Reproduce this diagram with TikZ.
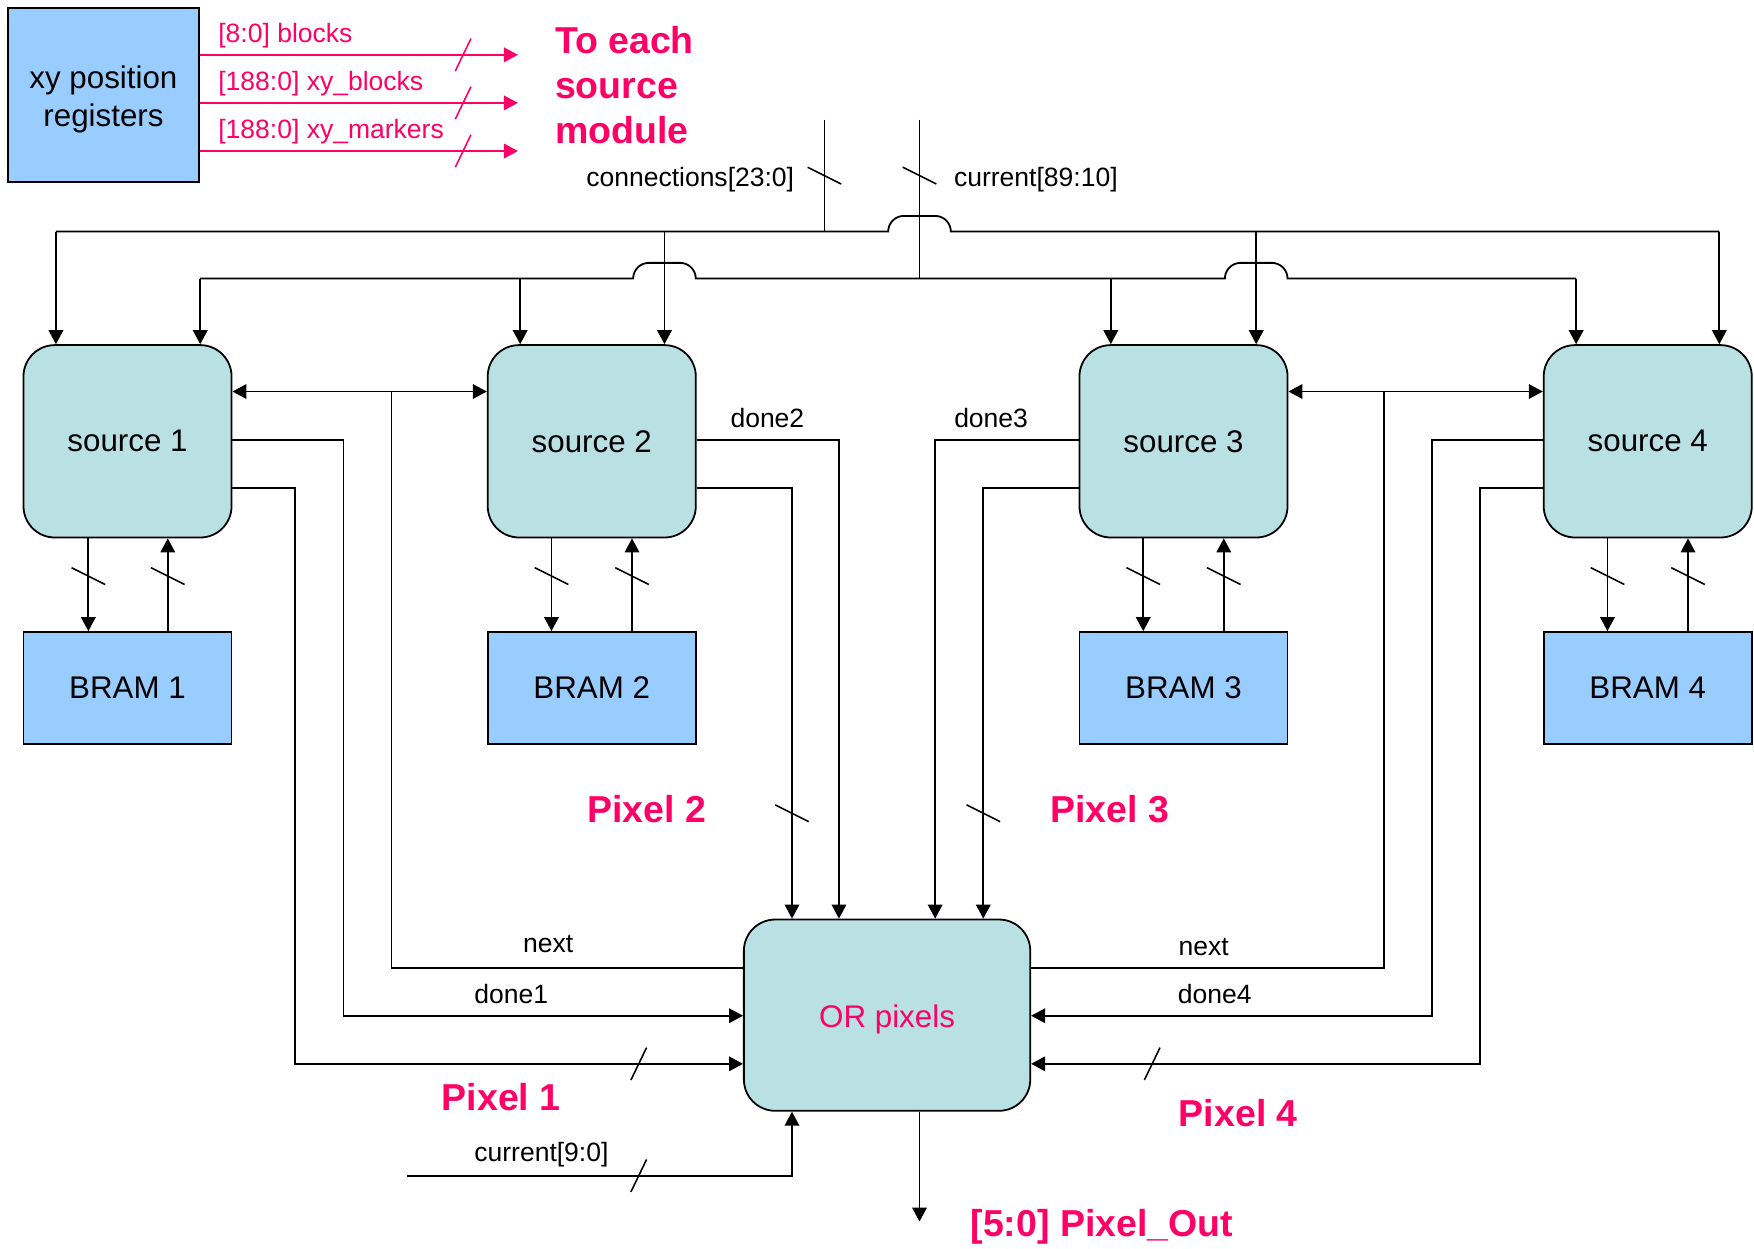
\documentclass[tikz,border=0pt]{standalone}
\usepackage{fontspec}
\setmainfont{Liberation Sans}
\usetikzlibrary{arrows.meta}
\definecolor{hot}{HTML}{FF0066}
\definecolor{srcfill}{HTML}{B9E0E3}
\definecolor{memfill}{HTML}{99CCFF}

\begin{document}
\begin{tikzpicture}[x=1pt,y=-1pt,
  wire/.style={line width=1.6pt},
  tip/.tip={Triangle[length=12.5pt,width=13pt]},
  arr/.style={wire,-tip},
  dblarr/.style={wire,tip-tip},
  srcbox/.style={draw,line width=1.6pt,fill=srcfill,rounded corners=28pt,
    minimum width=186pt,minimum height=172pt,inner sep=0pt,
    font=\fontsize{28}{32}\selectfont},
  membox/.style={draw,line width=1.6pt,fill=memfill,minimum width=186pt,
    minimum height=100pt,inner sep=0pt,font=\fontsize{28}{32}\selectfont},
  lbl/.style={inner sep=0pt,font=\fontsize{23.7}{27}\selectfont},
  hotlbl/.style={lbl,text=hot},
  big/.style={inner sep=0pt,text=hot,font=\fontsize{33.5}{40}\bfseries\selectfont},
  tick/.style={line width=1.4pt},
  bsl/.pic={\draw[tick] (-15,-7.5) -- (15,7.5);},
  fsl/.pic={\draw[tick] (-7,14.5) -- (7,-14.5);}
]
\useasboundingbox (0,0) rectangle (1568,1116);

% ---- blocks ----
\node[membox,minimum width=171pt,minimum height=156pt] (xy) at (92.5,85) {};
\node[align=center,inner sep=0pt,font=\fontsize{28}{34}\selectfont] (xytext)
  at ([yshift=-4pt]xy.center) {xy position\\registers};

\node[srcbox] (s1) at (114,394.5) {source 1};
\node[srcbox] (s2) at (529,394.5) {source 2};
\node[srcbox] (s3) at (1058,394.5) {source 3};
\node[srcbox] (s4) at (1473,394.5) {source 4};

\node[membox] (b1) at (114,615) {BRAM 1};
\node[membox] (b2) at (529,615) {BRAM 2};
\node[membox] (b3) at (1058,615) {BRAM 3};
\node[membox] (b4) at (1473,615) {BRAM 4};

\node[srcbox,minimum width=256pt,minimum height=171pt] (orp) at (793,907.5) {};
\node[inner sep=0pt,text=hot,font=\fontsize{28}{32}\selectfont] (ortext)
  at ([yshift=-4pt]orp.center) {OR pixels};

% ---- register outputs ----
\coordinate (t1) at (463,49);
\coordinate (t2) at (463,92);
\coordinate (t3) at (463,135);
\draw[arr,hot] (xy.east |- t1) -- (t1);
\draw[arr,hot] (xy.east |- t2) -- (t2);
\draw[arr,hot] (xy.east |- t3) -- (t3);
\pic[color=hot] at (414,49) {fsl};
\pic[color=hot] at (414,92) {fsl};
\pic[color=hot] at (414,135) {fsl};
\node[hotlbl,anchor=west] (la) at (195,32) {[8:0] blocks};
\node[hotlbl,anchor=west] (lb) at (195,75) {[188:0] xy\_blocks};
\node[hotlbl,anchor=west] (lc) at (195,118) {[188:0] xy\_markers};
\node[big,anchor=west,align=left] (dest) at (496,76) {To each\\source\\module};

% ---- input buses ----
\coordinate (connTop) at (737,107);
\coordinate (curTop) at (822,107);
\coordinate (connJ) at (737,207);
\coordinate (curJ) at (822,249);
\coordinate (cb1) at (50,207);
\coordinate (cb2) at (594,207);
\coordinate (cb3) at (1123,207);
\coordinate (cb4) at (1537,207);
\coordinate (lb1) at (179,249);
\coordinate (lb2) at (465,249);
\coordinate (lb3) at (993,249);
\coordinate (lb4) at (1409,249);

\draw[wire] (connTop) -- (connJ);
\draw[wire] (curTop) -- (curJ);
\pic at (737,157) {bsl};
\pic at (822,157) {bsl};
\node[lbl] (lconn) at (617,161) {connections[23:0]};
\node[lbl] (lcur) at (926,161) {current[89:10]};

% connections bus, hopping over the current feed
\draw[wire] (cb1) -- (794,207) arc[start angle=180,end angle=270,radius=14]
  -- (836,193) arc[start angle=270,end angle=360,radius=14] -- (cb4);
% current bus, hopping over the connection drops
\draw[wire] (lb1) -- (566,249) arc[start angle=180,end angle=270,radius=14]
  -- (608,235) arc[start angle=270,end angle=360,radius=14]
  -- (1095,249) arc[start angle=180,end angle=270,radius=14]
  -- (1137,235) arc[start angle=270,end angle=360,radius=14] -- (lb4);

\draw[arr] (cb1) -- (cb1 |- s1.north);
\draw[arr] (cb2) -- (cb2 |- s2.north);
\draw[arr] (cb3) -- (cb3 |- s3.north);
\draw[arr] (cb4) -- (cb4 |- s4.north);
\draw[arr] (lb1) -- (lb1 |- s1.north);
\draw[arr] (lb2) -- (lb2 |- s2.north);
\draw[arr] (lb3) -- (lb3 |- s3.north);
\draw[arr] (lb4) -- (lb4 |- s4.north);

% ---- source <-> BRAM ----
\draw[arr] (79,0 |- s1.south) -- (79,0 |- b1.north);
\draw[arr] (150,0 |- b1.north) -- (150,0 |- s1.south);
\draw[arr] (493,0 |- s2.south) -- (493,0 |- b2.north);
\draw[arr] (565,0 |- b2.north) -- (565,0 |- s2.south);
\draw[arr] (1022,0 |- s3.south) -- (1022,0 |- b3.north);
\draw[arr] (1094,0 |- b3.north) -- (1094,0 |- s3.south);
\draw[arr] (1437,0 |- s4.south) -- (1437,0 |- b4.north);
\draw[arr] (1509,0 |- b4.north) -- (1509,0 |- s4.south);
\foreach \x in {79,150,493,565,1022,1094,1437,1509} \pic at (\x,515) {bsl};

% ---- next ----
\draw[dblarr] (s1.east |- 0,350) -- (s2.west |- 0,350);
\draw[wire] (350,350) -- (350,865) -- (orp.west |- 0,865);
\draw[dblarr] (s3.east |- 0,350) -- (s4.west |- 0,350);
\draw[wire] (1237,350) -- (1237,865) -- (orp.east |- 0,865);
\node[lbl] (ln1) at (490,844) {next};
\node[lbl] (ln2) at (1076,847) {next};

% ---- done / pixel lines into the OR ----
\draw[arr] (s1.east |- 0,393) -- (307,393) -- (307,908) -- (orp.west |- 0,908);
\draw[arr] (s1.east |- 0,436) -- (264,436) -- (264,951) -- (orp.west |- 0,951);
\pic at (571,951) {fsl};
\draw[arr] (s2.east |- 0,393) -- (750,393) -- (750,0 |- orp.north);
\draw[arr] (s2.east |- 0,436) -- (708,436) -- (708,0 |- orp.north);
\pic at (708,727) {bsl};
\draw[arr] (s3.west |- 0,393) -- (836,393) -- (836,0 |- orp.north);
\draw[arr] (s3.west |- 0,436) -- (879,436) -- (879,0 |- orp.north);
\pic at (879,727) {bsl};
\draw[arr] (s4.west |- 0,393) -- (1280,393) -- (1280,908) -- (orp.east |- 0,908);
\draw[arr] (s4.west |- 0,436) -- (1323,436) -- (1323,951) -- (orp.east |- 0,951);
\pic at (1030,951) {fsl};

\node[lbl] (ld1) at (457,889) {done1};
\node[lbl] (ld2) at (686,374) {done2};
\node[lbl] (ld3) at (886,374) {done3};
\node[lbl] (ld4) at (1086,889) {done4};

\node[big] (p1) at (448,981) {Pixel 1};
\node[big] (p2) at (578,723) {Pixel 2};
\node[big] (p3) at (992,723) {Pixel 3};
\node[big] (p4) at (1107,995) {Pixel 4};

% ---- current[9:0] and output ----
\coordinate (c9) at (364,1051);
\draw[arr] (c9) -- (708,1051) -- (708,0 |- orp.south);
\pic at (571,1051) {fsl};
\node[lbl] (lc9) at (484,1032) {current[9:0]};

\coordinate (pout) at (822,1092);
\draw[arr] (orp.south -| pout) -- (pout);
\node[big] (lout) at (985,1097) {[5:0] Pixel\_Out};
\end{tikzpicture}
\end{document}
